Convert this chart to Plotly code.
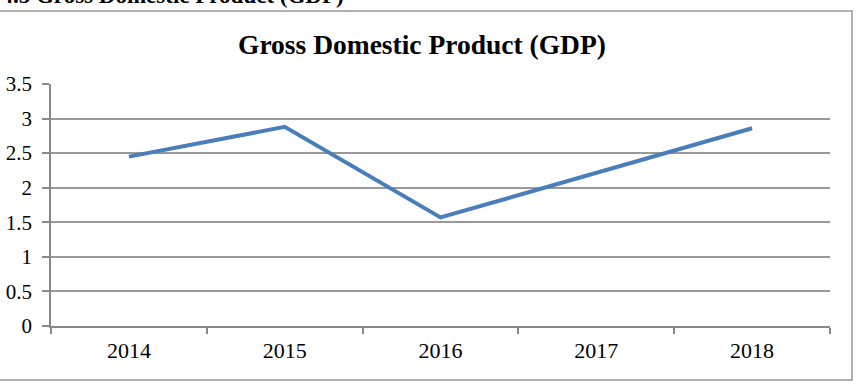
import plotly.graph_objects as go

years = ["2014", "2015", "2016", "2017", "2018"]
gdp = [2.45, 2.88, 1.57, 2.21, 2.86]
y_ticks = [0, 0.5, 1, 1.5, 2, 2.5, 3, 3.5]
y_labels = ["0", "0.5", "1", "1.5", "2", "2.5", "3", "3.5"]

W, H = 858, 392
L, R, T, B = 51, 28, 84, 66
pw, ph = W - L - R, H - T - B

def px(x):
    return (x - L) / pw

def py(y):
    return (H - B - y) / ph

serif = "Liberation Serif, Times New Roman, serif"

fig = go.Figure()
fig.add_trace(go.Scatter(
    x=years, y=gdp, mode="lines",
    line=dict(color="#4A7EBB", width=4),
    hoverinfo="skip", showlegend=False,
))

fig.update_layout(
    width=W, height=H,
    margin=dict(l=L, r=R, t=T, b=B, autoexpand=False),
    paper_bgcolor="white", plot_bgcolor="white",
    font=dict(family=serif, color="black", size=21),
    xaxis=dict(
        type="category", tickson="boundaries", automargin=False,
        showline=True, linecolor="#888888", linewidth=1.5,
        ticks="outside", ticklen=6, tickcolor="#888888", tickwidth=1.5,
        showgrid=False, zeroline=False,
        tickfont=dict(family=serif, size=22, color="black"),
        ticklabelstandoff=4,
        range=[-0.5, 4.5],
    ),
    yaxis=dict(
        range=[0, 3.5], tickvals=y_ticks, ticktext=y_labels, automargin=False,
        showline=True, linecolor="#888888", linewidth=1.5,
        ticks="outside", ticklen=7, tickcolor="#888888", tickwidth=1.5,
        showgrid=True, gridcolor="#999999", gridwidth=1.5,
        zeroline=False,
        tickfont=dict(family=serif, size=21, color="black"),
        ticklabelstandoff=6,
    ),
    shapes=[
        dict(type="rect", xref="paper", yref="paper",
             x0=px(-5), x1=px(852), y0=py(380), y1=py(11),
             line=dict(color="#999999", width=1.5), fillcolor="rgba(0,0,0,0)",
             layer="below"),
    ],
    annotations=[
        dict(text="<b>Gross Domestic Product (GDP)</b>", xref="paper", yref="paper",
             x=px(422), y=py(44), xanchor="center", yanchor="middle",
             showarrow=False, font=dict(family=serif, size=27.5, color="black")),
        dict(text="<b>Figure 4.5 Gross Domestic Product (GDP)</b>", xref="paper", yref="paper",
             x=px(346), y=py(10), xanchor="right", yanchor="bottom",
             showarrow=False, font=dict(family=serif, size=23, color="black")),
    ],
)

fig.write_html("out.html")
